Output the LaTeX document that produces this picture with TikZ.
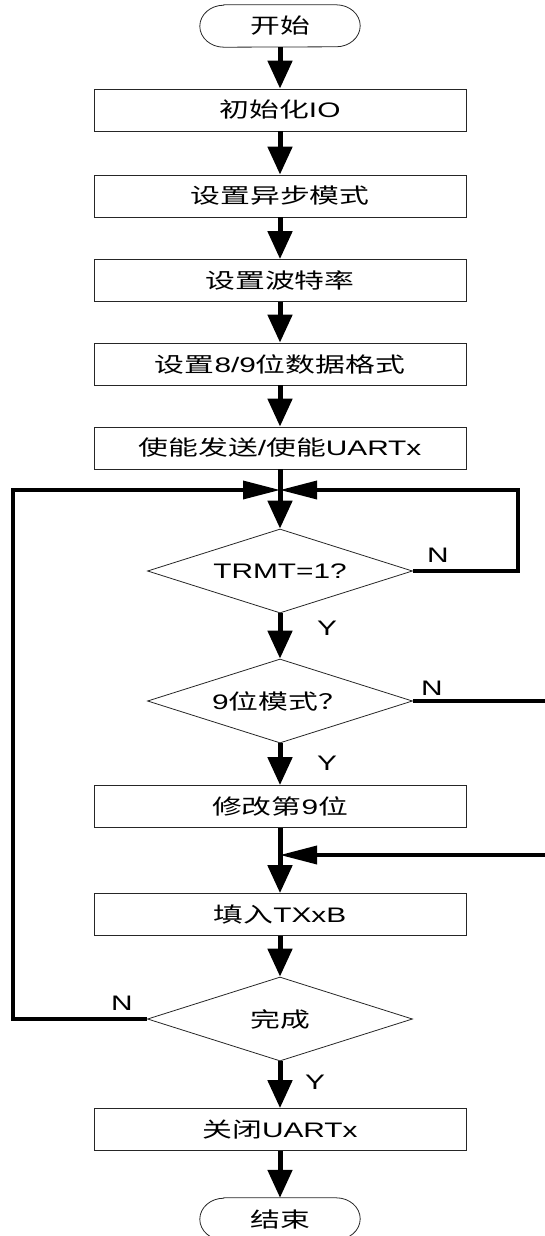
\documentclass[tikz,border=0pt]{standalone}
\usepackage{fontspec}
\setmainfont{Liberation Sans}[FakeStretch=1.42]
\newfontfamily\cjk{Noto Sans CJK SC}[FakeStretch=1.42]
\usetikzlibrary{shapes.geometric,arrows.meta,calc}
\tikzset{
  box/.style={draw=black!85,line width=0.8pt,minimum width=372pt,minimum height=42pt,inner sep=0pt,font=\fontsize{21}{25}\selectfont},
  term/.style={minimum width=160pt,minimum height=42pt,inner sep=0pt,font=\fontsize{21}{25}\selectfont},
  termline/.style={draw=black!85,line width=0.8pt},
  dec/.style={draw=black!85,line width=0.8pt,diamond,aspect=3.15,minimum width=265pt,minimum height=84pt,inner sep=0pt,font=\fontsize{21}{25}\selectfont},
  flow/.style={line width=5pt,-{Triangle[length=28pt,width=24pt]}},
  plainflow/.style={line width=5pt},
  loopln/.style={line width=3.5pt,-{Triangle[length=37pt,width=18pt]}},
  lbl/.style={font=\fontsize{21}{25}\selectfont,inner sep=0pt}
}
\begin{document}
\begin{tikzpicture}[x=1pt,y=1pt]
\useasboundingbox (0,0) rectangle (544,-1236);
\node[term] (start) at (280,-26) {\cjk 开始};
\node[box] (b1) at (280,-110) {{\cjk 初始化}IO};
\node[box] (b2) at (280,-196) {\cjk 设置异步模式};
\node[box] (b3) at (280,-280.5) {\cjk 设置波特率};
\node[box] (b4) at (280,-364) {{\cjk 设置}8/9{\cjk 位数据格式}};
\node[box] (b5) at (280,-448) {{\cjk 使能发送}/{\cjk 使能}UARTx};
\coordinate (j1) at (280,-490);
\node[dec] (d1) at (280,-571) {TRMT=1?};
\node[dec] (d2) at (280,-701) {9{\cjk 位模式？}};
\node[box] (b6) at (280,-806.5) {{\cjk 修改第}9{\cjk 位}};
\coordinate (j2) at (280,-855);
\node[box] (b7) at (280,-914.5) {{\cjk 填入}TXxB};
\node[dec] (d3) at (280,-1019) {\cjk 完成};
\node[box] (b8) at (280,-1129.5) {{\cjk 关闭}UARTx};
\node[term] (end) at (280,-1219) {\cjk 结束};
% terminal outlines
\foreach \t in {start,end}{
  \draw[termline] ($(\t.north west)+(24,0)$) -- ($(\t.north east)+(-24,0)$)
    arc[start angle=90,end angle=-90,x radius=24,y radius=21]
    -- ($(\t.south west)+(24,0)$)
    arc[start angle=270,end angle=90,x radius=24,y radius=21] -- cycle;
}
% main flow
\draw[flow] (start.south) -- (b1.north);
\draw[flow] (b1.south) -- (b2.north);
\draw[flow] (b2.south) -- (b3.north);
\draw[flow] (b3.south) -- (b4.north);
\draw[flow] (b4.south) -- (b5.north);
\draw[plainflow] (b5.south) -- (j1);
\draw[flow] (j1) -- (d1.north);
\draw[flow] (d1.south) -- (d2.north);
\draw[flow] (d2.south) -- (b6.north);
\draw[plainflow] (b6.south) -- (j2);
\draw[flow] (j2) -- (b7.north);
\draw[flow] (b7.south) -- (d3.north);
\draw[flow] (d3.south) -- (b8.north);
\draw[flow] (b8.south) -- (end.north);
% loops
\coordinate (r1) at (518,-571);
\coordinate (r2) at (552,-701);
\coordinate (l3) at (13,-1019);
\draw[loopln] (d1.east) -- (r1) |- (j1);
\draw[loopln] (d2.east) -- (r2) |- (j2);
\draw[loopln] (d3.west) -- (l3) |- (j1);
% labels
\node[lbl] (n1) at (438,-555) {N};
\node[lbl] (y1) at (327,-628) {Y};
\node[lbl] (n2) at (432,-688) {N};
\node[lbl] (y2) at (327,-763) {Y};
\node[lbl] (n3) at (122,-1003) {N};
\node[lbl] (y3) at (315,-1082) {Y};
\end{tikzpicture}
\end{document}
